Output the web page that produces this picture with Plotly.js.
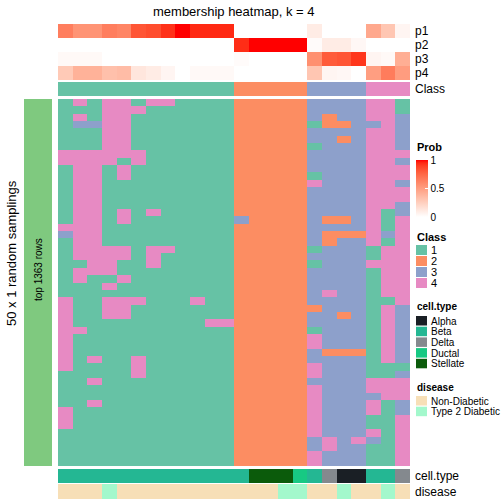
<!DOCTYPE html>
<html><head><meta charset="utf-8">
<script src="https://cdn.plot.ly/plotly-3.0.1.min.js"></script>
<style>html,body{margin:0;padding:0;background:#fff}#chart{width:504px;height:504px}</style>
</head><body><div id="chart"></div>
<script>
// ---------------- data ----------------
const probNames = ['p1','p2','p3','p4'];
const p1 = [0.65,0.55,0.55,0.65,0.62,0.82,0.85,0.93,1.00,0.95,0.95,0.95,0,0,0,0,0,0.10,0,0,0,0.45,0.30,0.05];
const p2 = [0,0,0,0,0,0,0,0,0,0,0,0,0.94,1.00,1.00,1.00,1.00,0.02,0.10,0.10,0.04,0,0,0];
const p3 = [0.03,0.03,0.03,0,0,0,0,0,0,0,0,0,0.02,0,0,0,0,0.57,0.80,0.82,0.92,0.05,0.03,0.42];
const p4 = [0.28,0.40,0.40,0.33,0.35,0.13,0.10,0.05,0,0.03,0.03,0.03,0,0,0,0,0,0.30,0.05,0.04,0,0.50,0.66,0.51];
const classLevels = ['1','2','3','4'];
const sampleClass = [1,1,1,1,1,1,1,1,1,1,1,1,2,2,2,2,2,3,3,3,3,4,4,4];
const membership = [
 [1,4,1,4,4,1,4,4,1,1,1,1,2,2,2,2,2,3,3,3,3,4,4,1],
 [1,1,1,4,4,4,1,1,1,1,1,1,2,2,2,2,2,3,3,3,3,4,4,1],
 [1,4,1,4,4,1,1,1,1,1,1,1,2,2,2,2,2,3,2,3,3,4,4,3],
 [1,3,3,4,4,1,1,1,1,1,1,1,2,2,2,2,2,1,2,2,3,3,4,3],
 [1,1,1,4,4,1,1,1,1,1,1,1,2,2,2,2,2,3,3,3,3,4,4,3],
 [1,1,1,4,4,1,1,1,1,1,1,1,2,2,2,2,2,3,3,2,3,4,4,3],
 [1,1,1,4,4,1,1,1,1,1,1,1,2,2,2,2,2,1,3,3,3,4,4,3],
 [4,4,4,4,4,4,1,1,1,1,1,1,2,2,2,2,2,3,3,3,3,4,4,4],
 [4,4,4,4,1,4,1,1,1,1,1,1,2,2,2,2,2,3,3,3,3,4,4,3],
 [1,4,4,1,4,1,1,1,1,1,1,1,2,2,2,2,2,3,3,3,3,4,4,4],
 [1,4,4,1,4,1,1,1,1,1,1,1,2,2,2,2,2,1,3,3,3,4,4,4],
 [1,4,4,1,1,1,1,1,1,1,1,1,2,2,2,2,2,4,3,3,3,4,4,3],
 [1,4,4,1,1,1,1,1,1,1,1,1,2,2,2,2,2,3,3,3,3,4,4,4],
 [1,4,4,1,1,1,1,1,1,1,1,1,2,2,2,2,2,3,3,3,3,4,4,4],
 [1,4,4,1,1,1,1,1,1,1,1,1,2,2,2,2,2,3,3,3,3,4,4,3],
 [1,4,4,1,4,1,4,1,1,1,1,1,2,2,2,2,2,3,3,3,3,4,1,3],
 [1,4,4,1,4,1,1,1,1,1,1,1,3,2,2,2,2,3,2,2,3,4,1,4],
 [4,4,4,1,1,1,1,1,1,1,1,1,2,2,2,2,2,3,3,3,3,4,1,4],
 [3,4,4,1,1,1,1,1,1,1,1,1,2,2,2,2,2,3,2,2,2,4,3,4],
 [1,4,4,1,1,1,1,1,1,1,1,1,2,2,2,2,2,3,2,3,3,4,1,4],
 [1,4,4,4,4,1,4,4,1,1,1,1,2,2,2,2,2,1,3,3,3,1,4,4],
 [1,4,4,4,4,1,4,1,1,1,1,1,2,2,2,2,2,3,3,3,3,1,4,4],
 [1,1,4,4,1,1,4,1,1,1,1,1,2,2,2,2,2,1,3,3,3,4,4,4],
 [1,4,4,4,1,1,1,1,1,1,1,1,2,2,2,2,2,3,3,3,3,1,4,4],
 [1,4,1,1,4,1,1,1,1,1,1,1,2,2,2,2,2,3,3,3,3,1,4,4],
 [1,1,1,4,1,1,1,1,1,1,1,1,2,2,2,2,2,3,3,3,3,1,4,4],
 [1,1,1,1,1,1,1,1,1,1,1,1,2,2,2,2,2,3,4,3,3,1,4,4],
 [4,1,1,4,4,4,1,1,1,4,1,1,2,2,2,2,2,3,3,3,3,1,1,4],
 [4,1,1,4,4,1,1,1,1,1,1,1,2,2,2,2,2,2,3,3,3,1,4,3],
 [4,1,1,4,4,1,1,1,1,1,1,1,2,2,2,2,2,3,3,2,3,1,4,3],
 [4,1,1,1,1,1,1,1,1,1,4,4,2,2,2,2,2,3,3,3,3,1,4,3],
 [4,4,1,1,1,1,1,1,1,1,1,1,2,2,2,2,2,1,3,3,3,1,4,3],
 [4,1,1,1,1,1,1,1,1,1,1,1,2,2,2,2,2,4,3,3,3,1,4,3],
 [4,1,1,1,1,1,1,1,1,1,1,1,2,2,2,2,2,4,3,3,3,1,4,3],
 [4,1,1,1,1,1,1,1,1,1,1,1,2,2,2,2,2,3,2,2,2,1,4,3],
 [4,1,4,1,1,4,1,1,1,1,1,1,2,2,2,2,2,3,3,3,3,1,4,3],
 [4,1,1,1,1,4,1,1,1,1,1,1,2,2,2,2,2,4,3,3,3,1,1,1],
 [1,1,1,1,1,4,1,1,1,1,1,1,2,2,2,2,2,4,3,3,3,1,1,3],
 [1,1,4,1,1,1,1,1,1,1,1,1,2,2,2,2,2,3,3,3,3,4,4,4],
 [1,1,1,1,1,1,1,1,1,1,1,1,2,2,2,2,2,4,3,3,3,4,4,4],
 [1,1,1,1,1,1,1,1,1,1,1,1,2,2,2,2,2,4,3,3,3,3,4,4],
 [1,1,4,1,1,1,1,1,1,1,1,1,2,2,2,2,2,4,3,3,3,4,1,3],
 [4,1,1,1,1,1,1,1,1,1,1,1,2,2,2,2,2,4,3,3,3,4,1,3],
 [4,1,1,1,1,1,1,1,1,1,1,1,2,2,2,2,2,4,3,3,3,1,1,4],
 [4,1,1,1,1,1,1,1,1,1,1,1,2,2,2,2,2,4,3,3,3,1,1,4],
 [1,1,1,1,1,1,1,1,1,1,1,1,2,2,2,2,2,4,3,3,3,4,1,4],
 [1,1,1,1,1,1,1,1,1,1,1,1,2,2,2,2,2,3,4,3,4,3,1,4],
 [1,1,1,1,1,1,1,1,1,1,1,1,2,2,2,2,2,3,4,3,3,1,1,4],
 [1,1,1,1,1,1,1,1,1,1,1,1,2,2,2,2,2,4,3,3,3,1,1,4],
 [1,1,1,1,1,1,1,1,1,1,1,1,2,2,2,2,2,4,3,3,3,1,1,4]
];
const cellTypeLevels = ['Alpha','Beta','Delta','Ductal','Stellate'];
const cellType = ['Beta','Beta','Beta','Beta','Beta','Beta','Beta','Beta','Beta','Beta','Beta','Beta','Beta',
  'Stellate','Stellate','Stellate','Ductal','Beta','Delta','Alpha','Alpha','Beta','Beta','Delta'];
const diseaseLevels = ['Non-Diabetic','Type 2 Diabetic'];
const disease = ['Non-Diabetic','Non-Diabetic','Non-Diabetic','Type 2 Diabetic','Non-Diabetic','Non-Diabetic',
  'Non-Diabetic','Non-Diabetic','Non-Diabetic','Non-Diabetic','Non-Diabetic','Non-Diabetic','Non-Diabetic',
  'Non-Diabetic','Non-Diabetic','Type 2 Diabetic','Type 2 Diabetic','Non-Diabetic','Non-Diabetic',
  'Type 2 Diabetic','Non-Diabetic','Non-Diabetic','Type 2 Diabetic','Non-Diabetic'];
const probTicks = [0, 0.5, 1];
const rowLabel = 'top 1363 rows';
const sideLabel = '50 x 1 random samplings';
const titleText = 'membership heatmap, k = 4';

// ---------------- styles ----------------
const FONT = 'Liberation Sans, Arial, Helvetica, sans-serif';
const classColors = ['#66C2A5','#FC8D62','#8DA0CB','#E78AC3'];
const cellTypeColors = ['#1A1F25','#24B793','#84898E','#17C983','#0B5B0B'];
const diseaseColors = ['#F7DFB7','#A3F8CC'];
const W = 504, H = 504;
const px = x => x / W, py = y => 1 - y / H;

// LAB interpolation white -> red (like circlize colorRamp2)
function srgb2lin(c){c/=255;return c<=0.04045?c/12.92:Math.pow((c+0.055)/1.055,2.4);}
function lin2srgb(c){c=Math.max(0,Math.min(1,c));const v=c<=0.0031308?12.92*c:1.055*Math.pow(c,1/2.4)-0.055;return Math.round(v*255);}
function rgb2lab(r,g,b){r=srgb2lin(r);g=srgb2lin(g);b=srgb2lin(b);
  let X=(0.4124*r+0.3576*g+0.1805*b)/0.95047,Y=(0.2126*r+0.7152*g+0.0722*b),Z=(0.0193*r+0.1192*g+0.9505*b)/1.08883;
  const f=t=>t>0.008856?Math.cbrt(t):7.787*t+16/116;const fx=f(X),fy=f(Y),fz=f(Z);
  return [116*fy-16,500*(fx-fy),200*(fy-fz)];}
function lab2rgb(L,a,b){const fy=(L+16)/116,fx=fy+a/500,fz=fy-b/200;
  const fi=t=>t>0.206893?t*t*t:(t-16/116)/7.787;const X=fi(fx)*0.95047,Y=fi(fy),Z=fi(fz)*1.08883;
  const r=3.2406*X-1.5372*Y-0.4986*Z,g=-0.9689*X+1.8758*Y+0.0415*Z,bb=0.0557*X-0.2040*Y+1.0570*Z;
  return 'rgb('+lin2srgb(r)+','+lin2srgb(g)+','+lin2srgb(bb)+')';}
const labW = rgb2lab(255,255,255), labR = rgb2lab(255,0,0);
const probScale = [];
for (let i = 0; i <= 20; i++) { const t = i/20;
  probScale.push([t, lab2rgb(labW[0]+(labR[0]-labW[0])*t, labW[1]+(labR[1]-labW[1])*t, labW[2]+(labR[2]-labW[2])*t)]); }
function stepScale(cols){const n=cols.length,s=[];cols.forEach((c,i)=>{s.push([i/n,c]);s.push([(i+1)/n,c]);});return s;}

const nS = sampleClass.length;
const xs = sampleClass.map((_, i) => i);
const common = {type:'heatmap', hoverinfo:'skip', xgap:0, ygap:0, x: xs};

const traces = [
  Object.assign({}, common, {z:[p1,p2,p3,p4], y:probNames.map((_,i)=>i), yaxis:'y',
    colorscale: probScale, zmin:0, zmax:1, showscale:true,
    colorbar:{x:px(416), xanchor:'left', xpad:0, y:py(217), yanchor:'bottom', ypad:0,
      len:57, lenmode:'pixels', thickness:12, thicknessmode:'pixels', outlinewidth:0,
      tickvals:probTicks, ticktext:probTicks.map(String), ticks:'inside', ticklen:3, tickcolor:'#ffffff',
      tickfont:{family:FONT,size:10,color:'#000'}}}),
  Object.assign({}, common, {z:[sampleClass], y:[0], yaxis:'y2',
    colorscale: stepScale(classColors), zmin:0.5, zmax:4.5, showscale:false}),
  Object.assign({}, common, {z:membership, y:membership.map((_,i)=>i), yaxis:'y3',
    colorscale: stepScale(classColors), zmin:0.5, zmax:4.5, showscale:false}),
  Object.assign({}, common, {z:[cellType.map(c=>cellTypeLevels.indexOf(c))], y:[0], yaxis:'y4',
    colorscale: stepScale(cellTypeColors), zmin:-0.5, zmax:cellTypeLevels.length-0.5, showscale:false}),
  Object.assign({}, common, {z:[disease.map(d=>diseaseLevels.indexOf(d))], y:[0], yaxis:'y5',
    colorscale: stepScale(diseaseColors), zmin:-0.5, zmax:diseaseLevels.length-0.5, showscale:false})
];

const hidden = {visible:false, fixedrange:true, showgrid:false, zeroline:false};
const layout = {
  width:W, height:H, margin:{l:0,r:0,t:0,b:0}, paper_bgcolor:'#fff', plot_bgcolor:'#fff',
  showlegend:false, font:{family:FONT, color:'#000'},
  xaxis: Object.assign({domain:[px(58), px(410)], range:[-0.5, nS-0.5], anchor:'y3'}, hidden),
  yaxis: Object.assign({domain:[py(80), py(24)], range:[3.5,-0.5], anchor:'x'}, hidden),
  yaxis2: Object.assign({domain:[py(96), py(82)], range:[-0.5,0.5], anchor:'x'}, hidden),
  yaxis3: Object.assign({domain:[py(466), py(99)], range:[membership.length-0.5,-0.5], anchor:'x'}, hidden),
  yaxis4: Object.assign({domain:[py(483), py(469)], range:[-0.5,0.5], anchor:'x'}, hidden),
  yaxis5: Object.assign({domain:[py(499), py(484)], range:[-0.5,0.5], anchor:'x'}, hidden),
  shapes: [], annotations: []
};
const ann = (x,y,text,opt) => layout.annotations.push(Object.assign({xref:'paper',yref:'paper',x:px(x),y:py(y),
  text:text, showarrow:false, xanchor:'left', yanchor:'middle', font:{family:FONT,size:12,color:'#000'}}, opt||{}));
const rect = (x0,y0,x1,y1,color) => layout.shapes.push({type:'rect',xref:'paper',yref:'paper',
  x0:px(x0),x1:px(x1),y0:py(y1),y1:py(y0),fillcolor:color,line:{width:0},layer:'above'});

// title
ann(234, 11, titleText, {xanchor:'center', font:{family:FONT,size:13,color:'#000'}});
// right labels of annotations
probNames.forEach((n,i)=>ann(413, 31+14*i, n));
ann(413, 89, 'Class');
ann(413, 476, 'cell.type');
ann(413, 491.5, 'disease');
// left bar and labels
rect(24, 99, 52, 466, '#7FC97F');
ann(38, 270, rowLabel, {xanchor:'center', textangle:-90, font:{family:FONT,size:10,color:'#000'}});
ann(11, 253, sideLabel, {xanchor:'center', textangle:-90, font:{family:FONT,size:13,color:'#000'}});
// Prob legend title
ann(415, 147, '<b>Prob</b>', {font:{family:FONT,size:11,color:'#000'}});
// Class legend
ann(415, 237, '<b>Class</b>', {font:{family:FONT,size:11,color:'#000'}});
classLevels.forEach((c,i)=>{ rect(416, 245+11*i, 427, 255+11*i, classColors[i]);
  ann(429, 250+11*i, c, {font:{family:FONT,size:11,color:'#000'}}); });
// cell.type legend
ann(415, 306, '<b>cell.type</b>', {font:{family:FONT,size:10,color:'#000'}});
cellTypeLevels.forEach((c,i)=>{ rect(416, 316+10.7*i, 427, 325.5+10.7*i, cellTypeColors[i]);
  ann(429, 321+10.7*i, c, {font:{family:FONT,size:10,color:'#000'}}); });
// disease legend
ann(415, 387, '<b>disease</b>', {font:{family:FONT,size:10,color:'#000'}});
diseaseLevels.forEach((c,i)=>{ rect(416, 396+10.7*i, 427, 405.5+10.7*i, diseaseColors[i]);
  ann(429, 401+10.7*i, c, {font:{family:FONT,size:10,color:'#000'}}); });

Plotly.newPlot('chart', traces, layout, {staticPlot:true, displayModeBar:false});
</script></body></html>
